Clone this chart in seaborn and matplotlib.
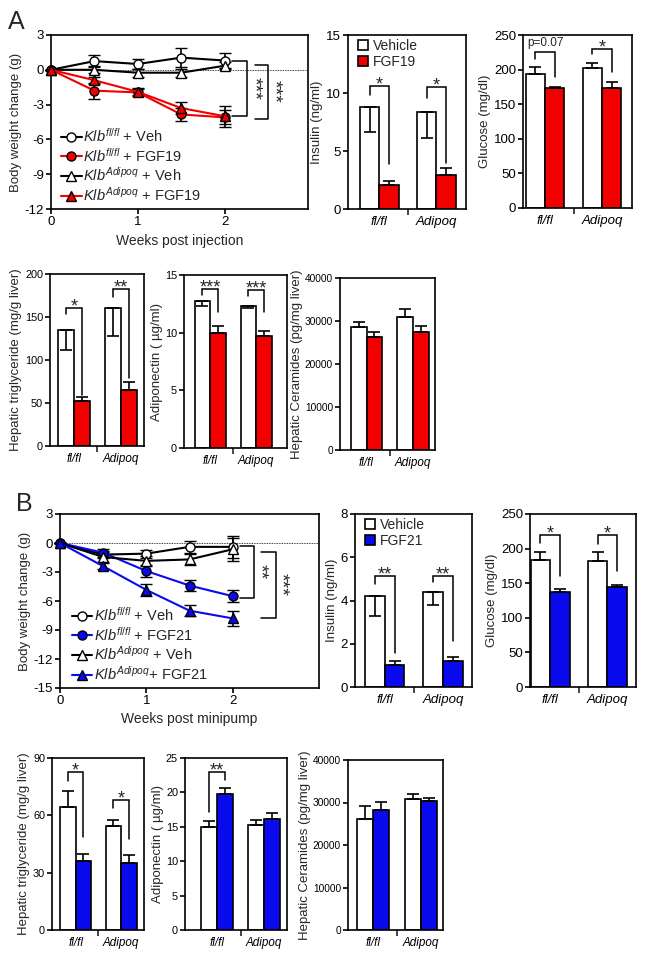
import matplotlib
matplotlib.use('Agg')
import numpy as np
import pandas as pd
import matplotlib.pyplot as plt
from matplotlib import font_manager
from matplotlib.lines import Line2D
from matplotlib.patches import Patch
import seaborn as sns

sns.set_style('ticks')
plt.rcParams['font.family'] = ['Liberation Sans', 'DejaVu Sans']
plt.rcParams['mathtext.fontset'] = 'custom'
plt.rcParams['mathtext.rm'] = 'Liberation Sans'
plt.rcParams['mathtext.it'] = 'Liberation Sans:italic'
plt.rcParams['axes.unicode_minus'] = False

# the lower bar rows of the figure use horizontally squeezed tick text
_names = {f.name for f in font_manager.fontManager.ttflist}
if 'Liberation Sans Narrow' in _names:
    NARROW, NARROW_Y, NARROW_X = ['Liberation Sans Narrow', 'Liberation Sans'], 9.5, 10
else:
    NARROW, NARROW_Y, NARROW_X = ['Liberation Sans', 'DejaVu Sans'], 7.8, 8.4

RED = '#f20000'
BLUE = '#0a0aee'

# ---- data: body weight time courses ----
weeks = [0, 0.5, 1, 1.5, 2]

a_flfl_veh = [0, 0.75, 0.5, 1.05, 0.8]
a_flfl_veh_err = [0, 0.55, 0.45, 0.8, 0.65]
a_flfl_fgf = [0, -1.8, -1.95, -3.85, -4.1]
a_flfl_fgf_err = [0, 0.7, 0.3, 0.55, 0.6]
a_adq_veh = [0, 0.0, -0.25, -0.25, 0.35]
a_adq_veh_err = [0, 0.3, 0.35, 0.35, 0.3]
a_adq_fgf = [0, -0.9, -1.9, -3.3, -4.0]
a_adq_fgf_err = [0, 0.3, 0.3, 0.55, 0.9]

b_flfl_veh = [0, -1.2, -1.1, -0.4, -0.4]
b_flfl_veh_err = [0, 0.4, 0.4, 0.6, 1.1]
b_flfl_fgf = [0, -1.0, -2.9, -4.4, -5.5]
b_flfl_fgf_err = [0, 0.4, 0.6, 0.6, 0.6]
b_adq_veh = [0, -1.45, -1.85, -1.7, -0.65]
b_adq_veh_err = [0, 0.5, 0.5, 0.6, 1.2]
b_adq_fgf = [0, -2.4, -4.85, -7.0, -7.8]
b_adq_fgf_err = [0, 0.3, 0.6, 0.6, 0.8]

# ---- data: bar panels (fl/fl, Adipoq) ----
genotypes = ['fl/fl', 'Adipoq']

a_ins_veh, a_ins_veh_err = [8.8, 8.35], [2.2, 2.2]
a_ins_fgf, a_ins_fgf_err = [2.1, 2.9], [0.3, 0.6]
a_glu_veh, a_glu_veh_err = [194, 203], [10, 7]
a_glu_fgf, a_glu_fgf_err = [173, 173], [2, 9]
a_tg_veh, a_tg_veh_err = [135, 161], [23, 33]
a_tg_fgf, a_tg_fgf_err = [52, 65], [5, 10]
a_adn_veh, a_adn_veh_err = [12.75, 12.35], [0.45, 0.2]
a_adn_fgf, a_adn_fgf_err = [10.0, 9.75], [0.6, 0.4]
a_cer_veh, a_cer_veh_err = [28700, 30900], [1100, 1900]
a_cer_fgf, a_cer_fgf_err = [26250, 27350], [1150, 1450]

b_ins_veh, b_ins_veh_err = [4.2, 4.4], [0.9, 0.6]
b_ins_fgf, b_ins_fgf_err = [1.0, 1.2], [0.2, 0.2]
b_glu_veh, b_glu_veh_err = [183, 182], [12, 13]
b_glu_fgf, b_glu_fgf_err = [138, 144], [3, 3]
b_tg_veh, b_tg_veh_err = [64.5, 54.5], [8, 3]
b_tg_fgf, b_tg_fgf_err = [36, 35], [4, 4]
b_adn_veh, b_adn_veh_err = [14.9, 15.2], [0.9, 0.8]
b_adn_fgf, b_adn_fgf_err = [19.7, 16.2], [0.9, 0.8]
b_cer_veh, b_cer_veh_err = [26200, 30800], [3000, 1300]
b_cer_fgf, b_cer_fgf_err = [28200, 30400], [2000, 600]

W, H = 645, 957
fig = plt.figure(figsize=(W / 100, H / 100), dpi=100)


def px_axes(l, r, t, b):
    return fig.add_axes([l / W, 1 - b / H, (r - l) / W, (b - t) / H])


def box(ax):
    for s in ax.spines.values():
        s.set_visible(True)
        s.set_linewidth(1.2)
        s.set_color('black')
    ax.tick_params(axis='both', direction='out', width=1.2, length=3.5, pad=1.5,
                   labelsize=9.5, colors='black')


def bracket(ax, x1, x2, top, y1, y2, text, fs=13):
    ax.plot([x1, x1, x2, x2], [y1, top, top, y2], color='black', lw=1.1, solid_joinstyle='miter')
    if text.startswith('*'):
        ax.annotate(text, ((x1 + x2) / 2, top), xytext=(0, -2.5), textcoords='offset points',
                    ha='center', va='baseline', fontsize=fs)
    else:
        ax.annotate(text, ((x1 + x2) / 2, top), xytext=(0, 2), textcoords='offset points',
                    ha='center', va='bottom', fontsize=8.5)


def bar_panel(rect, veh, veh_err, trt, trt_err, veh_down, color, ylim, yticks, ylabel, xlim,
              narrow=False, lpad=2, ysize=None):
    ax = px_axes(*rect)
    df = pd.DataFrame({'genotype': genotypes * 2,
                       'group': ['Vehicle'] * 2 + ['Treated'] * 2,
                       'value': veh + trt})
    sns.barplot(data=df, x='genotype', y='value', hue='group', hue_order=['Vehicle', 'Treated'],
                palette=['white', color], saturation=1, edgecolor='black', linewidth=1.2, width=0.68,
                errorbar=None, legend=False, ax=ax)
    for cont, errs, down in zip(ax.containers, [veh_err, trt_err], [veh_down, False]):
        for bar, e in zip(cont, errs):
            x = bar.get_x() + bar.get_width() / 2
            y = bar.get_height()
            yerr = [[e], [0]] if down else [[0], [e]]
            ax.errorbar(x, y, yerr=yerr, color='black', lw=1.2, capsize=4, capthick=1.2, zorder=3)
    ax.set_xlim(*xlim)
    ax.set_ylim(*ylim)
    ax.set_yticks(yticks)
    ax.set_xticks([0, 1])
    ax.set_xticklabels(genotypes, fontstyle='italic', fontsize=10)
    ax.set_xticks([0.5], minor=True)
    box(ax)
    ax.tick_params(axis='x', which='major', length=0, pad=5)
    ax.tick_params(axis='x', which='minor', length=4, width=1.2)
    if narrow:
        for lbl in ax.get_yticklabels():
            lbl.set_family(NARROW)
            lbl.set_fontsize(ysize or NARROW_Y)
        for lbl in ax.get_xticklabels():
            lbl.set_family(NARROW)
            lbl.set_fontsize(NARROW_X)
    ax.set_xlabel('')
    ax.set_ylabel(ylabel, fontsize=9.5, labelpad=lpad)
    return ax


def bar_legend(ax, color, label):
    ax.legend(handles=[Patch(facecolor='white', edgecolor='black', lw=1.2, label='Vehicle'),
                       Patch(facecolor=color, edgecolor='black', lw=1.2, label=label)],
              loc='upper left', bbox_to_anchor=(0.05, 1.0), frameon=False, fontsize=10,
              handlelength=0.7, handleheight=0.7, handletextpad=0.4, labelspacing=0.12,
              borderpad=0, borderaxespad=0.3)


def line_panel(rect, series, ylim, yticks, xlabel, xlim, leg_anchor):
    ax = px_axes(*rect)
    ax.axhline(0, ls=(0, (1, 1)), lw=0.6, color='black', zorder=0)
    handles = []
    for y, err, marker, mfc, lc, label in series:
        ax.errorbar(weeks, y, yerr=err, color=lc, ecolor='black', marker=marker, mfc=mfc, mec='black',
                    ms=6.5, mew=1.0, lw=1.5, elinewidth=1.2, capsize=4, capthick=1.2, clip_on=False, zorder=3)
        handles.append(Line2D([], [], color=lc, marker=marker, mfc=mfc, mec='black', ms=6.5, mew=1.0,
                              lw=1.5, label=label))
    ax.set_xlim(*xlim)
    ax.set_ylim(*ylim)
    ax.set_yticks(yticks)
    ax.set_xticks([0, 1, 2])
    box(ax)
    ax.set_xlabel(xlabel, fontsize=10)
    ax.set_ylabel('Body weight change (g)', fontsize=9.5, labelpad=2)
    ax.legend(handles=handles, loc='lower left', bbox_to_anchor=leg_anchor, frameon=False, fontsize=10.5,
              handlelength=1.4, handletextpad=0.1, labelspacing=0.12, borderpad=0, borderaxespad=0)
    return ax


# ================= Panel A =================
fig.text(8 / W, 1 - 10 / H, 'A', fontsize=18, va='top', ha='left')

ax = line_panel((51, 308, 35, 209),
                [(a_flfl_veh, a_flfl_veh_err, 'o', 'white', 'black', r'$\mathit{Klb}^{\mathit{fl/fl}}$ + Veh'),
                 (a_flfl_fgf, a_flfl_fgf_err, 'o', RED, RED, r'$\mathit{Klb}^{\mathit{fl/fl}}$ + FGF19'),
                 (a_adq_veh, a_adq_veh_err, '^', 'white', 'black', r'$\mathit{Klb}^{\mathit{Adipoq}}$ + Veh'),
                 (a_adq_fgf, a_adq_fgf_err, '^', RED, RED, r'$\mathit{Klb}^{\mathit{Adipoq}}$ + FGF19')],
                (-12, 3), [3, 0, -3, -6, -9, -12], 'Weeks post injection', (0, 2.96), (0.04, 0.03))
ax.plot([2.09, 2.26, 2.26, 2.09], [0.8, 0.8, -4.0, -4.0], color='black', lw=1.1)
ax.plot([2.35, 2.5, 2.5, 2.35], [0.45, 0.45, -4.2, -4.2], color='black', lw=1.1)
ax.text(2.33, -1.6, '***', rotation=-90, ha='center', va='center', fontsize=14)
ax.text(2.56, -1.9, '***', rotation=-90, ha='center', va='center', fontsize=14)

ax = bar_panel((348, 466, 35, 209), a_ins_veh, a_ins_veh_err, a_ins_fgf, a_ins_fgf_err, True, RED,
               (0, 15), [0, 5, 10, 15], 'Insulin (ng/ml)', (-0.55, 1.52))
bracket(ax, -0.17, 0.17, 10.6, 9.8, 3.9, '*')
bracket(ax, 0.83, 1.17, 10.5, 9.6, 4.0, '*')
bar_legend(ax, RED, 'FGF19')

ax = bar_panel((523, 632, 35, 208), a_glu_veh, a_glu_veh_err, a_glu_fgf, a_glu_fgf_err, False, RED,
               (0, 250), [0, 50, 100, 150, 200, 250], 'Glucose (mg/dl)', (-0.39, 1.53))
bracket(ax, -0.17, 0.17, 226, 215, 190, 'p=0.07')
bracket(ax, 0.83, 1.17, 230, 222, 197, '*')

ax = bar_panel((50, 144, 274, 446), a_tg_veh, a_tg_veh_err, a_tg_fgf, a_tg_fgf_err, True, RED,
               (0, 200), [0, 50, 100, 150, 200], 'Hepatic triglyceride (mg/g liver)', (-0.51, 1.5),
               narrow=True)
bracket(ax, -0.17, 0.17, 160, 154, 59, '*')
bracket(ax, 0.83, 1.17, 182, 173, 79, '**')

ax = bar_panel((184, 287, 275, 448), a_adn_veh, a_adn_veh_err, a_adn_fgf, a_adn_fgf_err, True, RED,
               (0, 15), [0, 5, 10, 15], 'Adiponectin ( \u00b5g/ml)', (-0.57, 1.67), narrow=True, lpad=1)
bracket(ax, -0.17, 0.17, 13.8, 13.3, 11.8, '***')
bracket(ax, 0.83, 1.17, 13.7, 13.2, 11.8, '***')

ax = bar_panel((340, 435, 278, 450), a_cer_veh, a_cer_veh_err, a_cer_fgf, a_cer_fgf_err, False, RED,
               (0, 40000), [0, 10000, 20000, 30000, 40000], 'Hepatic Ceramides (pg/mg liver)', (-0.57, 1.47),
               narrow=True, lpad=1, ysize=7.3)

# ================= Panel B =================
fig.text(16 / W, 1 - 492 / H, 'B', fontsize=18, va='top', ha='left')

ax = line_panel((60, 319, 514, 688),
                [(b_flfl_veh, b_flfl_veh_err, 'o', 'white', 'black', r'$\mathit{Klb}^{\mathit{fl/fl}}$ + Veh'),
                 (b_flfl_fgf, b_flfl_fgf_err, 'o', BLUE, BLUE, r'$\mathit{Klb}^{\mathit{fl/fl}}$ + FGF21'),
                 (b_adq_veh, b_adq_veh_err, '^', 'white', 'black', r'$\mathit{Klb}^{\mathit{Adipoq}}$ + Veh'),
                 (b_adq_fgf, b_adq_fgf_err, '^', BLUE, BLUE, r'$\mathit{Klb}^{\mathit{Adipoq}}$+ FGF21')],
                (-15, 3), [3, 0, -3, -6, -9, -12, -15], 'Weeks post minipump', (0, 3.0), (0.046, 0.03))
ax.plot([2.09, 2.25, 2.25, 2.09], [-0.35, -0.35, -5.7, -5.7], color='black', lw=1.1)
ax.plot([2.33, 2.5, 2.5, 2.33], [-0.9, -0.9, -7.8, -7.8], color='black', lw=1.1)
ax.text(2.31, -3.0, '**', rotation=-90, ha='center', va='center', fontsize=14)
ax.text(2.56, -4.3, '***', rotation=-90, ha='center', va='center', fontsize=14)

ax = bar_panel((355, 472, 514, 687), b_ins_veh, b_ins_veh_err, b_ins_fgf, b_ins_fgf_err, True, BLUE,
               (0, 8), [0, 2, 4, 6, 8], 'Insulin (ng/ml)', (-0.51, 1.5))
bracket(ax, -0.17, 0.17, 5.15, 4.76, 1.57, '**')
bracket(ax, 0.83, 1.17, 5.15, 4.87, 2.12, '**')
bar_legend(ax, BLUE, 'FGF21')

ax = bar_panel((530, 636, 514, 687), b_glu_veh, b_glu_veh_err, b_glu_fgf, b_glu_fgf_err, False, BLUE,
               (0, 250), [0, 50, 100, 150, 200, 250], 'Glucose (mg/dl)', (-0.35, 1.5))
bracket(ax, -0.17, 0.17, 220, 208, 160, '*')
bracket(ax, 0.83, 1.17, 219, 207, 167, '*')

ax = bar_panel((52, 144, 758, 930), b_tg_veh, b_tg_veh_err, b_tg_fgf, b_tg_fgf_err, False, BLUE,
               (0, 90), [0, 30, 60, 90], 'Hepatic triglyceride (mg/g liver)', (-0.52, 1.5), narrow=True)
bracket(ax, -0.17, 0.17, 82.6, 77.8, 48.9, '*')
bracket(ax, 0.83, 1.17, 68, 63.8, 47.7, '*')

ax = bar_panel((185, 287, 758, 930), b_adn_veh, b_adn_veh_err, b_adn_fgf, b_adn_fgf_err, False, BLUE,
               (0, 25), [0, 5, 10, 15, 20, 25], 'Adiponectin ( \u00b5g/ml)', (-0.69, 1.49), narrow=True, lpad=1)
bracket(ax, -0.17, 0.17, 23.0, 17.2, 21.8, '**')

ax = bar_panel((348, 443, 760, 930), b_cer_veh, b_cer_veh_err, b_cer_fgf, b_cer_fgf_err, False, BLUE,
               (0, 40000), [0, 10000, 20000, 30000, 40000], 'Hepatic Ceramides (pg/mg liver)', (-0.53, 1.47),
               narrow=True, lpad=1, ysize=7.3)

fig.savefig('out.png', dpi=100)
